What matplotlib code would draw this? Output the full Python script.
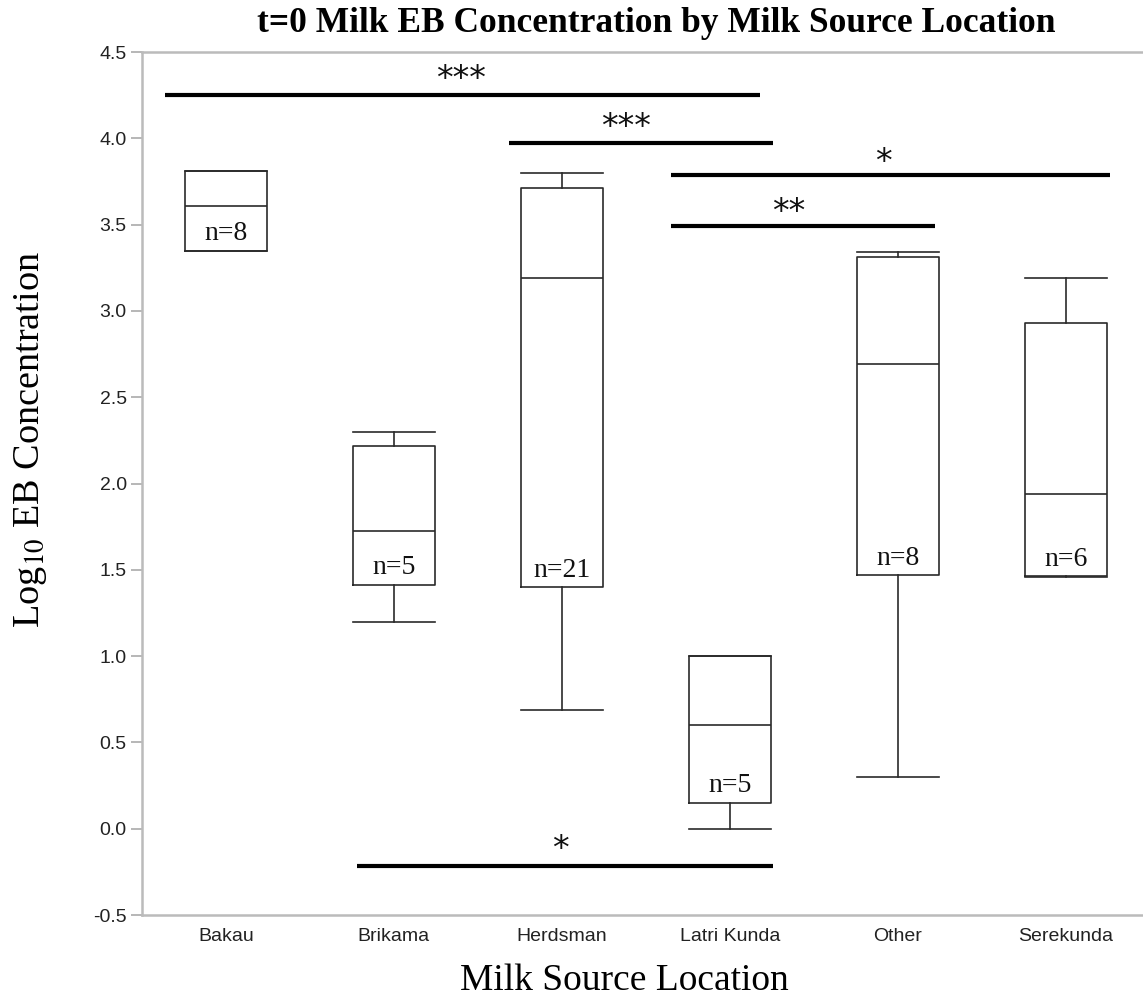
import matplotlib
matplotlib.use("Agg")
import matplotlib.pyplot as plt

# Dados (log10 da concentração de EB)
locais = ["Bakau", "Brikama", "Herdsman", "Latri Kunda", "Other", "Serekunda"]
whis_baixo = [3.35, 1.20, 0.69, 0.00, 0.30, 1.46]
q1 = [3.35, 1.414, 1.40, 0.151, 1.468, 1.464]
mediana = [3.61, 1.725, 3.19, 0.60, 2.695, 1.94]
q3 = [3.81, 2.22, 3.71, 1.00, 3.31, 2.93]
whis_alto = [3.81, 2.30, 3.80, 1.00, 3.34, 3.19]
n_amostras = [8, 5, 21, 5, 8, 6]

# Barras de significância: inicio, fim, altura, texto e centro do texto
sig_inicio = [-0.363, 1.683, 2.649, 2.649, 0.780]
sig_fim = [3.179, 3.258, 5.262, 4.220, 3.256]
sig_y = [4.25, 3.975, 3.79, 3.494, -0.215]
sig_texto = ["***", "***", "*", "**", "*"]
sig_tx = [1.40, 2.38, 3.915, 3.35, 1.99]
sig_ty = [4.35, 4.075, 3.87, 3.58, -0.11]

plt.rcParams["axes.unicode_minus"] = False
plt.rcParams["mathtext.fontset"] = "stix"

fig = plt.figure(figsize=(11.43, 9.97), dpi=100)
ax = fig.add_axes([0.1242, 0.0822, 0.8758, 0.8656])

stats = []
for i in range(len(locais)):
    stats.append({"whislo": whis_baixo[i], "q1": q1[i], "med": mediana[i],
                  "q3": q3[i], "whishi": whis_alto[i], "fliers": []})

cor = "#2a2a2a"
pos = list(range(len(locais)))
ax.bxp(stats, positions=pos, widths=0.49, capwidths=0.49, showfliers=False,
       boxprops=dict(color=cor, linewidth=1.2),
       medianprops=dict(color=cor, linewidth=1.2),
       whiskerprops=dict(color=cor, linewidth=1.2),
       capprops=dict(color=cor, linewidth=1.2))

for i in range(len(locais)):
    ax.text(pos[i], q1[i] + 0.06, "n=%d" % n_amostras[i], ha="center",
            va="baseline", fontsize=20, family="Liberation Serif", color="#111")

for i in range(len(sig_texto)):
    ax.plot([sig_inicio[i], sig_fim[i]], [sig_y[i], sig_y[i]], color="black",
            linewidth=3, solid_capstyle="butt")
    # o asterisco fica acima da linha de base, então desce o texto
    ax.text(sig_tx[i], sig_ty[i] - 0.065, sig_texto[i], ha="center", va="baseline",
            fontsize=24, family="DejaVu Sans", color="#111")

ax.set_xlim(-0.5, 5.46)
ax.set_ylim(-0.5, 4.5)
ax.set_yticks([-0.5, 0.0, 0.5, 1.0, 1.5, 2.0, 2.5, 3.0, 3.5, 4.0, 4.5])
ax.set_yticklabels(["%.1f" % v for v in ax.get_yticks()])
ax.set_xticks(pos)
ax.set_xticklabels(locais)
for lab in ax.get_xticklabels() + ax.get_yticklabels():
    lab.set_family("Liberation Sans")
    lab.set_fontsize(14)
    lab.set_color("#222")

ax.tick_params(axis="y", length=8, width=1.2, color="#aaaaaa", pad=3)
ax.tick_params(axis="x", length=0, pad=9)
for lado in ["left", "bottom", "top"]:
    ax.spines[lado].set_color("#bbbbbb")
    ax.spines[lado].set_linewidth(1.8)
ax.spines["right"].set_visible(False)

fig.text(0.574, 0.976, "t=0 Milk EB Concentration by Milk Source Location",
         ha="center", va="center", fontsize=25.5, fontweight="bold",
         family="Liberation Serif")
fig.text(0.027, 0.559, "Log$_{10}$ EB Concentration", rotation=90,
         ha="center", va="center", fontsize=27.5, family="Liberation Serif")
fig.text(0.546, 0.007, "Milk Source Location", ha="center", va="baseline",
         fontsize=27, family="Liberation Serif")

fig.savefig("out.png", dpi=100)
